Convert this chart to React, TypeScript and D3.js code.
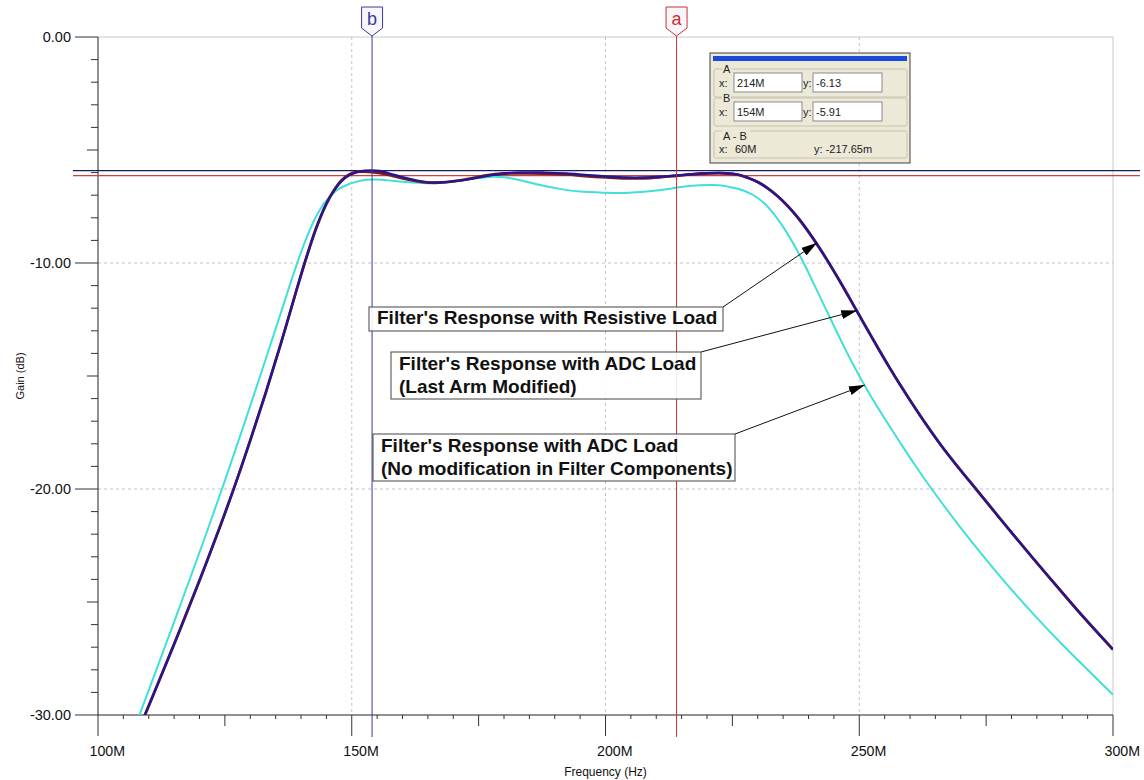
import * as d3 from 'd3';

// frequency in MHz, gain in dB
const resistiveLoad: [number, number][] = [
  [108.5, -30.4], [112, -28.51], [116, -26.31], [120, -24.05], [124, -21.69], [127, -19.83],
  [130, -17.85], [133, -15.78], [136, -13.59], [139, -11.29], [141, -9.8], [143, -8.45],
  [145, -7.38], [146.5, -6.8], [148, -6.38], [149.5, -6.12], [151, -5.98], [152.5, -5.92],
  [154, -5.9], [155.5, -5.93], [158, -6.08], [161, -6.26], [164, -6.4], [166.5, -6.44],
  [169.5, -6.4], [173, -6.3], [176.5, -6.15], [180, -6.04], [184.5, -5.99], [188, -6.0],
  [192.4, -6.04], [196, -6.1], [200.2, -6.17], [204, -6.22], [207.5, -6.22], [211, -6.18],
  [214, -6.13], [217, -6.07], [220, -6.03], [223, -6.02], [226, -6.08], [228, -6.22],
  [230, -6.42], [232, -6.7], [234, -7.06], [236, -7.5], [238, -8.02], [240, -8.62],
  [242, -9.28], [244, -9.99], [246, -10.74], [248, -11.52], [250, -12.31], [252, -13.1],
  [254, -13.88], [256, -14.64], [258, -15.37], [260, -16.07], [263, -17.08], [266, -18.03],
  [269, -18.9], [273, -20.0], [278, -21.38], [284, -23.0], [289, -24.32], [294, -25.62],
  [300, -27.1],
];

const adcLoadModified: [number, number][] = [
  [108.5, -30.4], [112, -28.51], [116, -26.31], [120, -24.05], [124, -21.69], [127, -19.83],
  [130, -17.85], [133, -15.78], [136, -13.59], [139, -11.29], [141, -9.8], [143, -8.45],
  [145, -7.38], [146.5, -6.78], [148, -6.34], [149.5, -6.08], [151, -5.97], [152.5, -5.96],
  [154, -5.98], [155.5, -6.02], [158, -6.14], [161, -6.3], [164, -6.42], [166.5, -6.45],
  [169.5, -6.4], [173, -6.28], [176.5, -6.12], [180, -6.04], [184.5, -6.03], [188, -6.04],
  [192.4, -6.08], [196, -6.15], [200.2, -6.21], [204, -6.25], [207.5, -6.25], [211, -6.2],
  [214, -6.14], [217, -6.08], [220, -6.04], [223, -6.03], [226, -6.09], [228, -6.23],
  [230, -6.42], [232, -6.7], [234, -7.06], [236, -7.5], [238, -8.02], [240, -8.62],
  [242, -9.28], [244, -9.99], [246, -10.74], [248, -11.52], [250, -12.31], [252, -13.1],
  [254, -13.88], [256, -14.64], [258, -15.37], [260, -16.07], [263, -17.08], [266, -18.03],
  [269, -18.9], [273, -20.0], [278, -21.38], [284, -23.0], [289, -24.32], [294, -25.62],
  [300, -27.1],
];

const adcLoadOriginal: [number, number][] = [
  [107.5, -30.4], [111, -28.3], [115, -25.88], [119, -23.42], [122, -21.55], [125, -19.63],
  [128, -17.66], [131, -15.65], [134, -13.6], [137, -11.53], [139, -10.17], [141, -8.93],
  [143, -7.93], [145, -7.23], [147, -6.79], [149, -6.55], [151, -6.4], [153, -6.32],
  [155, -6.31], [158, -6.36], [161.5, -6.43], [165.4, -6.47], [169, -6.42], [173, -6.3],
  [177, -6.19], [180.5, -6.22], [184, -6.38], [187.1, -6.55], [191, -6.72], [195, -6.84],
  [200.2, -6.89], [204, -6.9], [207, -6.86], [210.5, -6.78], [213.4, -6.69], [216, -6.6],
  [218.6, -6.56], [221, -6.55], [223.2, -6.58], [225, -6.66], [227, -6.78], [229, -6.98],
  [231, -7.3], [233, -7.78], [235, -8.4], [237, -9.14], [239, -9.98], [241, -10.9],
  [243, -11.84], [245, -12.78], [247, -13.7], [249, -14.58], [251, -15.4], [253, -16.16],
  [255, -16.88], [258, -17.93], [261, -18.95], [264.6, -20.1], [270, -21.72], [275, -23.12],
  [280, -24.45], [285, -25.7], [290, -26.88], [295, -28.0], [300, -29.1],
];

const xTicks = [100, 150, 200, 250, 300];
const xTickLabels = ['100M', '150M', '200M', '250M', '300M'];
const yTicks = [0, -10, -20, -30];
const yTickLabels = ['0.00', '-10.00', '-20.00', '-30.00'];

const cursorNames = ['a', 'b'];
const cursorFreq = [214, 154];
const cursorGain = [-6.13, -5.91];
const cursorReadout = [['214M', '-6.13'], ['154M', '-5.91']];
const deltaReadout = ['60M', '-217.65m'];

const noteLines = [
  ["Filter's Response with Resistive Load"],
  ["Filter's Response with ADC Load", '(Last Arm Modified)'],
  ["Filter's Response with ADC Load", '(No modification in Filter Components)'],
];
const noteTargets: [number, number][] = [[241.7, -9.1], [249.6, -12.1], [251.1, -15.4]];

const W = 1144;
const H = 780;
const left = 98, right = 1113, top = 37, bottom = 715;
const font = '"Liberation Sans", Arial, sans-serif';

const App = () => {
  const x = d3.scaleLinear().domain([100, 300]).range([left, right]);
  const y = d3.scaleLinear().domain([0, -30]).range([top, bottom]);
  const line = d3.line<[number, number]>()
    .x(d => x(d[0]))
    .y(d => y(d[1]))
    .curve(d3.curveCatmullRom.alpha(0.5));

  const minorX = d3.range(100, 301, 5);
  const minorY = d3.range(0, -31, -1);

  // annotation boxes (pixel layout)
  const boxes = [
    { x: 369, y: 307, w: 354, h: 24, tx: 377, ty: 324, ax: 723, ay: 307 },
    { x: 391, y: 352, w: 310, h: 47, tx: 399, ty: 370, ax: 701, ay: 352 },
    { x: 373, y: 434, w: 362, h: 47, tx: 381, ty: 452, ax: 735, ay: 434 },
  ];

  const cursorColors = ['#cc3030', '#3a3aa0'];
  const hCursorColors = ['#cc4040', '#1c1c60'];

  return (
    <svg width={W} height={H} style={{ position: 'absolute', left: 0, top: 0, background: '#fff' }} fontFamily={font}>
      <defs>
        <clipPath id="plot">
          <rect x={left} y={top} width={right - left} height={bottom - top} />
        </clipPath>
        <marker id="arrow" markerUnits="userSpaceOnUse" markerWidth={17} markerHeight={10} refX={16} refY={4.5} orient="auto">
          <path d="M0,0 L16,4.5 L0,9 Z" fill="#000" />
        </marker>
      </defs>

      {/* frame and grid */}
      <line x1={left} x2={right} y1={top} y2={top} stroke="#c8c8c8" />
      <line x1={right} x2={right} y1={top} y2={bottom} stroke="#c8c8c8" />
      {xTicks.slice(1, -1).map(t => (
        <line key={'gx' + t} x1={x(t)} x2={x(t)} y1={top} y2={bottom} stroke="#c4c4c4" strokeDasharray="3,3" />
      ))}
      {yTicks.slice(1, -1).map(t => (
        <line key={'gy' + t} x1={left} x2={right} y1={y(t)} y2={y(t)} stroke="#c4c4c4" strokeDasharray="3,3" />
      ))}

      {/* axes */}
      <line x1={left} x2={left} y1={top} y2={bottom} stroke="#222" />
      <line x1={left} x2={right} y1={bottom} y2={bottom} stroke="#222" />
      {minorY.map(t => {
        const len = t % 10 === 0 ? 23 : t % 5 === 0 ? 11 : 7;
        return <line key={'ty' + t} x1={left - len} x2={left} y1={y(t)} y2={y(t)} stroke="#333" />;
      })}
      {minorX.map(t => {
        const len = t % 50 === 0 ? 21 : t % 25 === 0 ? 11 : 4;
        return <line key={'tx' + t} x1={x(t)} x2={x(t)} y1={bottom} y2={bottom + len} stroke="#333" />;
      })}
      {yTicks.map((t, i) => (
        <text key={'ly' + t} x={71} y={y(t) + 5} textAnchor="end" fontSize={14.5} fill="#111">{yTickLabels[i]}</text>
      ))}
      {xTicks.map((t, i) => (
        <text key={'lx' + t} x={x(t) - 8.5} y={756} fontSize={14.2} fill="#111">{xTickLabels[i]}</text>
      ))}
      <text x={(left + right) / 2} y={776} textAnchor="middle" fontSize={12} fill="#111">Frequency (Hz)</text>
      <text transform={`translate(24,${(top + bottom) / 2}) rotate(-90)`} textAnchor="middle" fontSize={11} fill="#111">Gain (dB)</text>

      {/* horizontal cursors */}
      {cursorGain.map((g, i) => (
        <line key={'hc' + i} x1={73} x2={1140} y1={y(g)} y2={y(g)} stroke={hCursorColors[i]} strokeWidth={1.2} />
      ))}

      {/* curves */}
      <g clipPath="url(#plot)" fill="none" strokeLinejoin="round">
        <path d={line(adcLoadOriginal)!} stroke="#40e0d8" strokeWidth={2} />
        <path d={line(adcLoadModified)!} stroke="#7a1c1c" strokeWidth={2.8} />
        <path d={line(resistiveLoad)!} stroke="#2a168c" strokeWidth={2.4} />
      </g>

      {/* vertical cursors */}
      {cursorFreq.map((f, i) => {
        const cx = x(f);
        return (
          <g key={'vc' + i}>
            <line x1={cx} x2={cx} y1={36} y2={737} stroke={cursorColors[i]} strokeWidth={1} />
            <path d={`M${cx - 10.5},7 H${cx + 10.5} V28 L${cx},36 L${cx - 10.5},28 Z`} fill="#f6f6fb" stroke={cursorColors[i]} strokeWidth={1} />
            <text x={cx} y={25} textAnchor="middle" fontSize={18} fill={cursorColors[i]}>{cursorNames[i]}</text>
          </g>
        );
      })}

      {/* annotations */}
      {boxes.map((b, i) => (
        <g key={'note' + i}>
          <line x1={b.ax} y1={b.ay} x2={x(noteTargets[i][0])} y2={y(noteTargets[i][1])} stroke="#111" strokeWidth={1} markerEnd="url(#arrow)" />
          <rect x={b.x} y={b.y} width={b.w} height={b.h} fill="#fff" fillOpacity={0.9} stroke="#444" />
          {noteLines[i].map((s, j) => (
            <text key={j} x={b.tx} y={b.ty + j * 23} fontSize={19} fontWeight="bold" fill="#111">{s}</text>
          ))}
        </g>
      ))}

      {/* cursor readout panel */}
      <g fontSize={11} fill="#222">
        <rect x={710} y={53} width={200} height={110} fill="#ece9d8" stroke="#404040" />
        <rect x={713} y={56} width={194} height={5} fill="#1a4ad8" />
        {[0, 1].map(k => {
          const gy = 69 + k * 29;
          const name = k === 0 ? 'A' : 'B';
          return (
            <g key={'grp' + k}>
              <rect x={714} y={gy} width={193} height={28} rx={2} fill="none" stroke="#c6c3b0" />
              <rect x={722} y={gy - 4} width={9} height={8} fill="#ece9d8" />
              <text x={723} y={gy + 4}>{name}</text>
              <text x={719} y={gy + 18}>x:</text>
              <rect x={734} y={gy + 4} width={68} height={19} fill="#fff" stroke="#8a8a8a" />
              <text x={737} y={gy + 18}>{cursorReadout[k][0]}</text>
              <text x={803} y={gy + 18}>y:</text>
              <rect x={813} y={gy + 4} width={69} height={19} fill="#fff" stroke="#8a8a8a" />
              <text x={816} y={gy + 18}>{cursorReadout[k][1]}</text>
            </g>
          );
        })}
        <rect x={714} y={131} width={193} height={27} rx={2} fill="none" stroke="#c6c3b0" />
        <rect x={722} y={127} width={28} height={8} fill="#ece9d8" />
        <text x={723} y={140}>A - B</text>
        <text x={719} y={153}>x:</text>
        <text x={735} y={153}>{deltaReadout[0]}</text>
        <text x={814} y={153}>y: {deltaReadout[1]}</text>
      </g>
    </svg>
  );
};

export default App;
